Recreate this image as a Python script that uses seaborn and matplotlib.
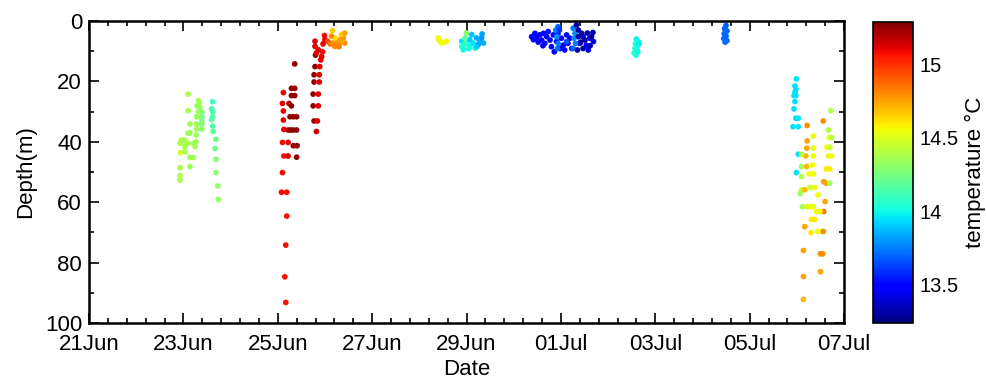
import pandas as pd
import numpy as np
import matplotlib
matplotlib.use("Agg")
import matplotlib.pyplot as plt
import matplotlib.dates as mdates
import seaborn as sns

# (day of June, depth m, temperature degC); 1 Jul = day 31
cast_23jun = [
    (23.10, 24.2, 14.38), (23.32, 26.4, 14.36), (23.34, 27.3, 14.36), (23.29, 28.1, 14.35),
    (23.35, 28.6, 14.33), (23.32, 30.0, 14.35), (23.39, 30.2, 14.30), (23.10, 29.7, 14.38),
    (23.28, 31.7, 14.35), (23.39, 31.7, 14.25), (23.39, 32.8, 14.28), (23.14, 34.1, 14.36),
    (23.28, 34.1, 14.35), (23.39, 34.1, 14.28), (23.28, 35.8, 14.35), (23.39, 35.8, 14.30),
    (23.10, 37.2, 14.36), (23.14, 37.0, 14.36), (23.27, 37.8, 14.35), (22.96, 39.4, 14.38),
    (23.03, 39.4, 14.38), (22.93, 40.5, 14.38), (23.00, 40.5, 14.38), (23.10, 40.5, 14.37),
    (23.21, 40.5, 14.36), (23.27, 40.0, 14.35), (23.03, 41.6, 14.37), (23.25, 41.6, 14.36),
    (22.94, 43.6, 14.50), (23.03, 43.3, 14.37), (23.14, 45.2, 14.36), (23.21, 45.2, 14.36),
    (23.14, 48.2, 14.36), (22.93, 48.6, 14.38), (22.93, 51.2, 14.38), (22.93, 52.7, 14.38),
]
cast_23jun_b = [
    (23.62, 26.7, 14.12), (23.60, 29.1, 14.14), (23.62, 30.0, 14.14), (23.62, 31.7, 14.15),
    (23.60, 32.6, 14.16), (23.62, 34.8, 14.16), (23.63, 36.6, 14.18), (23.69, 39.2, 14.22),
    (23.67, 42.2, 14.24), (23.69, 45.8, 14.28), (23.69, 50.2, 14.30), (23.73, 54.6, 14.32),
    (23.74, 59.1, 14.33),
]
cast_25jun = [
    (25.12, 23.7, 15.10), (25.10, 27.3, 15.10), (25.12, 29.8, 15.10), (25.12, 32.8, 15.10),
    (25.13, 35.9, 15.10), (25.10, 40.2, 15.08), (25.13, 44.7, 15.08), (25.10, 50.2, 15.08),
    (25.08, 56.7, 15.08), (25.19, 56.7, 15.08), (25.19, 64.6, 15.07), (25.17, 74.2, 15.07),
    (25.15, 84.7, 15.07), (25.17, 93.2, 15.07),
    (25.36, 14.2, 15.25), (25.29, 22.3, 15.25), (25.36, 22.3, 15.25), (25.29, 24.7, 15.25),
    (25.36, 24.7, 15.25), (25.24, 27.3, 15.20), (25.29, 28.1, 15.25), (25.26, 31.7, 15.25),
    (25.33, 31.7, 15.25), (25.40, 31.7, 15.25), (25.22, 36.1, 15.20), (25.27, 36.1, 15.25),
    (25.33, 36.1, 15.25), (25.40, 36.1, 15.25), (25.22, 40.2, 15.10), (25.33, 41.3, 15.25),
    (25.41, 41.3, 15.25), (25.22, 44.7, 15.12), (25.40, 45.1, 15.25),
]
cast_26jun = [
    (25.80, 11.3, 15.25), (25.79, 15.1, 15.25), (25.89, 15.1, 15.12), (25.77, 17.8, 15.25),
    (25.88, 17.8, 15.12), (25.77, 20.2, 15.25), (25.88, 20.2, 15.12), (25.75, 24.2, 15.25),
    (25.86, 24.2, 15.12), (25.75, 28.1, 15.25), (25.86, 28.1, 15.12), (25.77, 33.1, 15.25),
    (25.84, 33.1, 15.12), (25.82, 36.6, 15.15), (25.91, 12.9, 15.10), (25.93, 11.8, 15.10),
    (25.95, 10.2, 15.08), (25.79, 6.7, 15.12), (25.79, 8.4, 15.12), (25.86, 9.5, 15.10),
    (25.82, 10.6, 15.12), (25.99, 4.8, 15.08), (26.00, 6.2, 15.10), (25.96, 7.6, 15.10),
    (26.06, 6.7, 14.95), (26.11, 7.6, 14.85), (26.18, 7.3, 14.80), (26.25, 6.7, 14.78),
    (26.32, 6.2, 14.75), (26.39, 5.6, 14.78), (26.42, 7.3, 14.80), (26.28, 7.8, 14.80),
    (26.21, 8.4, 14.82), (26.16, 3.2, 14.66), (26.35, 4.5, 14.65), (26.21, 5.6, 14.62),
    (26.42, 4.0, 14.75), (26.14, 5.0, 14.80), (26.30, 8.5, 14.82), (26.37, 7.0, 14.76),
]
cast_28jun = [
    (28.40, 5.6, 14.55), (28.44, 6.7, 14.55), (28.54, 7.0, 14.55), (28.47, 7.3, 14.55),
    (28.42, 6.2, 14.56), (28.58, 6.7, 14.55),
    (29.00, 4.0, 14.30), (28.90, 6.7, 13.95), (28.90, 8.4, 14.10), (28.93, 9.5, 14.00),
    (29.00, 7.3, 14.15), (29.07, 6.2, 13.90), (29.07, 8.4, 14.00), (29.14, 7.3, 13.95),
    (29.18, 9.0, 14.05), (29.21, 5.6, 13.85), (29.25, 7.8, 13.80), (29.28, 6.7, 13.85),
    (29.32, 5.6, 13.80), (29.36, 7.3, 13.85), (28.97, 5.6, 14.20), (29.11, 4.5, 13.90),
    (28.95, 7.8, 14.05), (29.04, 9.2, 14.02), (29.22, 8.5, 13.90), (29.33, 4.3, 13.82),
]
cast_1jul = [
    (30.38, 5.2, 13.50), (30.45, 4.1, 13.50), (30.48, 5.7, 13.48), (30.55, 4.6, 13.50),
    (30.59, 6.3, 13.48), (30.63, 4.1, 13.52), (30.66, 7.4, 13.50), (30.70, 5.2, 13.50),
    (30.73, 3.5, 13.52), (30.77, 6.3, 13.50), (30.80, 8.5, 13.48), (30.84, 4.6, 13.52),
    (30.86, 10.2, 13.45), (30.91, 6.8, 13.50), (30.94, 4.1, 13.55), (30.98, 9.1, 13.48),
    (31.01, 5.7, 13.50), (31.05, 8.0, 13.48), (31.08, 9.6, 13.45), (31.12, 4.6, 13.52),
    (31.15, 7.4, 13.50), (31.19, 5.7, 13.50), (31.23, 9.1, 13.48), (31.40, 7.4, 13.45),
    (31.47, 5.2, 13.45), (31.54, 8.0, 13.45), (31.61, 5.7, 13.45), (31.69, 6.8, 13.42),
    (31.58, 9.6, 13.42), (30.52, 7.0, 13.48), (30.62, 8.2, 13.48), (30.42, 6.2, 13.50),
    (30.89, 3.0, 13.75), (30.91, 5.2, 13.78), (30.94, 7.4, 13.75), (30.93, 9.1, 13.72),
    (30.94, 1.9, 13.70), (31.26, 2.4, 13.75), (31.30, 4.1, 13.78), (31.28, 5.7, 13.78),
    (31.31, 7.4, 13.75), (31.26, 9.1, 13.72), (31.12, 6.8, 13.65), (30.97, 3.0, 13.60),
    (31.33, 1.3, 13.30), (31.37, 3.0, 13.30), (31.37, 5.2, 13.32), (31.44, 4.1, 13.30),
    (31.51, 6.3, 13.30), (31.65, 5.2, 13.32), (31.47, 9.1, 13.35), (31.35, 9.6, 13.32),
    (31.42, 7.0, 13.30), (31.56, 4.0, 13.32), (31.68, 3.8, 13.35), (31.62, 8.2, 13.35),
]
cast_2jul = [
    (32.60, 6.0, 13.98), (32.64, 6.8, 14.00), (32.58, 7.5, 14.02), (32.62, 8.3, 14.00),
    (32.57, 9.0, 14.05), (32.61, 9.8, 14.02), (32.55, 10.6, 14.05), (32.59, 11.4, 14.04),
    (32.66, 7.6, 13.98), (32.63, 10.2, 14.00),
]
cast_4jul = [
    (34.50, 1.5, 13.68), (34.47, 2.5, 13.70), (34.52, 3.3, 13.70), (34.46, 4.2, 13.72),
    (34.50, 5.0, 13.70), (34.45, 5.8, 13.72), (34.52, 6.5, 13.70), (34.48, 7.0, 13.72),
]
cast_6jul = [
    (35.99, 19.2, 13.95), (35.96, 21.5, 13.95), (35.98, 22.6, 13.95), (35.96, 23.6, 13.95),
    (35.94, 24.7, 13.95), (35.98, 24.7, 13.95), (35.96, 26.7, 13.95), (35.94, 29.1, 13.95),
    (35.98, 32.2, 13.95), (36.03, 32.2, 13.96), (35.92, 35.0, 13.95), (36.03, 35.0, 13.96),
    (36.03, 44.1, 13.95), (35.99, 50.2, 13.95),
    (36.72, 29.7, 14.40), (36.56, 33.1, 14.80), (36.22, 34.6, 14.80), (36.67, 36.1, 14.40),
    (36.35, 38.1, 14.55), (36.69, 38.6, 14.55), (36.74, 38.6, 14.40), (36.22, 39.7, 14.75),
    (36.35, 42.1, 14.55), (36.21, 42.1, 14.75), (36.64, 41.8, 14.55), (36.70, 41.8, 14.45),
    (36.19, 44.7, 14.70), (36.35, 44.7, 14.55), (36.67, 44.7, 14.55), (36.74, 44.7, 14.55),
    (36.10, 44.1, 14.40), (36.10, 48.2, 14.35), (36.21, 48.2, 14.70), (36.33, 47.7, 14.55),
    (36.63, 49.0, 14.60), (36.70, 49.0, 14.60), (36.10, 51.5, 14.40), (36.26, 50.6, 14.55),
    (36.35, 50.6, 14.55), (36.57, 53.2, 14.75), (36.62, 53.7, 14.75), (36.70, 53.7, 14.35),
    (36.28, 55.1, 14.45), (36.38, 55.1, 14.55), (36.10, 55.9, 14.45), (36.17, 55.9, 14.70),
    (36.45, 57.6, 14.55), (36.07, 57.1, 14.35), (36.12, 61.5, 14.35), (36.21, 61.5, 14.50),
    (36.28, 61.5, 14.55), (36.35, 61.5, 14.55), (36.60, 59.8, 14.75), (36.57, 63.1, 14.85),
    (36.42, 63.1, 14.55), (36.49, 63.1, 14.55), (36.17, 68.1, 14.75), (36.31, 65.7, 14.60),
    (36.38, 65.7, 14.60), (36.44, 69.7, 14.55), (36.51, 69.7, 14.55), (36.56, 69.7, 14.80),
    (36.30, 70.1, 14.60), (36.14, 76.0, 14.75), (36.50, 77.1, 14.80), (36.55, 77.1, 14.80),
    (36.50, 83.0, 14.75), (36.14, 84.6, 14.75), (36.14, 92.2, 14.70),
]

temp_min, temp_max = 13.24, 15.29

casts = [cast_23jun, cast_23jun_b, cast_25jun, cast_26jun, cast_28jun,
         cast_1jul, cast_2jul, cast_4jul, cast_6jul]
df = pd.DataFrame([p for c in casts for p in c], columns=["day", "depth", "temp"])
df["date"] = pd.Timestamp("2012-06-01") + pd.to_timedelta(df["day"] - 1, unit="D")

sns.set_style("white")
plt.rcParams["font.family"] = ["Liberation Sans", "DejaVu Sans"]
plt.rcParams["text.color"] = "black"
plt.rcParams["axes.labelcolor"] = "black"
plt.rcParams["xtick.color"] = "black"
plt.rcParams["ytick.color"] = "black"

fig = plt.figure(figsize=(9.86, 3.8), dpi=100)
ax = fig.add_axes([89 / 986, 1 - 323 / 380, 755 / 986, 302 / 380])
cax = fig.add_axes([873 / 986, 1 - 323 / 380, 40 / 986, 301 / 380])

jet = plt.get_cmap("jet")
sns.scatterplot(data=df, x="date", y="depth", hue="temp", palette=jet,
                hue_norm=(temp_min, temp_max), s=17, linewidth=0,
                legend=False, ax=ax)

# axes in MATLAB box style
ax.set_xlim(pd.Timestamp("2012-06-21"), pd.Timestamp("2012-07-07"))
ax.set_ylim(100, 0)
ax.set_xticks(pd.date_range("2012-06-21", "2012-07-07", freq="2D"))
ax.set_xticks(pd.date_range("2012-06-21", "2012-07-07", freq="9.6h"), minor=True)
ax.xaxis.set_major_formatter(mdates.DateFormatter("%d%b"))
ax.set_yticks([0, 20, 40, 60, 80, 100])
ax.set_yticks(range(10, 100, 20), minor=True)
ax.tick_params(which="both", direction="in", top=True, right=True,
               bottom=True, left=True, labelsize=16, width=1.2,
               color="black", labelcolor="black")
ax.tick_params(which="major", length=7)
ax.tick_params(which="minor", length=3.5)
ax.tick_params(axis="x", which="both", pad=8)
ax.tick_params(axis="y", which="both", pad=5)
for sp in ax.spines.values():
    sp.set_linewidth(1.8)
    sp.set_color("black")
ax.set_xlabel("Date", fontsize=16, labelpad=3, color="black")
ax.set_ylabel("Depth(m)", fontsize=16, labelpad=6, color="black")

sm = plt.cm.ScalarMappable(cmap=jet, norm=plt.Normalize(temp_min, temp_max))
cb = fig.colorbar(sm, cax=cax)
cb.set_ticks([13.5, 14, 14.5, 15])
cb.set_ticklabels(["13.5", "14", "14.5", "15"])
cb.ax.tick_params(labelsize=14.5, direction="in", length=4, width=1, right=True,
                  pad=5, color="black", labelcolor="black")
cb.outline.set_linewidth(1.2)
cb.outline.set_edgecolor("black")
cb.set_label("temperature °C", fontsize=16, labelpad=4, color="black")

fig.savefig("out.png", dpi=100)
